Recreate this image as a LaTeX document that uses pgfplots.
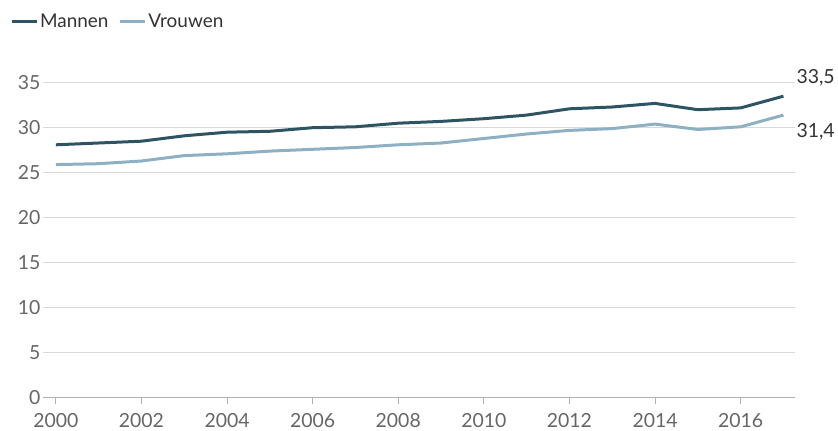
\documentclass[border=0pt]{standalone}
\usepackage{pgfplots}
\pgfplotsset{compat=1.18}
\usepackage{fontspec}
\setmainfont{Lato}
\definecolor{mannen}{HTML}{2E5464}
\definecolor{vrouwen}{HTML}{8DB0C2}
\definecolor{tickgray}{HTML}{666666}
\definecolor{gridgray}{HTML}{D9D9D9}
\begin{document}
\begin{tikzpicture}[x=1bp,y=1bp]
\useasboundingbox (0,0) rectangle (838,430);
\begin{axis}[
  at={(43bp,32.3bp)}, anchor=south west,
  scale only axis, width=752bp, height=315bp,
  xmin=1999.70, xmax=2017.27, ymin=0, ymax=35,
  xtick={2000,2002,...,2016}, ytick={0,5,...,35},
  xticklabel style={/pgf/number format/1000 sep={}, yshift=-5bp},
  /pgf/number format/assume math mode=true,
  axis lines*=left,
  y axis line style={draw=none},
  x axis line style={gray!60, line width=0.8bp, -},
  ymajorgrids, grid style={gridgray, line width=0.8bp},
  tick label style={font=\fontsize{19.5}{22}\selectfont, text=tickgray},
  yticklabel style={xshift=1bp},
  ytick style={draw=none},
  xtick style={gray!60, line width=0.8bp},
  xtick align=outside, major tick length=6.7bp,
  clip=false,
  legend style={at={(rel axis cs:-0.044,1.193)}, anchor=west, draw=none,
    inner sep=0pt, font=\fontsize{19}{22}\selectfont, text=black!80,
    /tikz/every even column/.append style={column sep=8bp}},
  legend columns=2,
  legend image code/.code={\draw[#1, line width=3bp] (0bp,0bp) -- (25bp,0bp);},
]
\addplot[mannen, line width=3bp] coordinates {
 (2000,28.1) (2001,28.3) (2002,28.5) (2003,29.1) (2004,29.5) (2005,29.6)
 (2006,30.0) (2007,30.1) (2008,30.5) (2009,30.7) (2010,31.0) (2011,31.4)
 (2012,32.1) (2013,32.3) (2014,32.7) (2015,32.0) (2016,32.2) (2017,33.5)};
\addlegendentry{Mannen}
\addplot[vrouwen, line width=3bp] coordinates {
 (2000,25.9) (2001,26.0) (2002,26.3) (2003,26.9) (2004,27.1) (2005,27.4)
 (2006,27.6) (2007,27.8) (2008,28.1) (2009,28.3) (2010,28.8) (2011,29.3)
 (2012,29.7) (2013,29.9) (2014,30.4) (2015,29.8) (2016,30.1) (2017,31.4)};
\addlegendentry{Vrouwen}
\node[anchor=west, font=\fontsize{19.5}{22}\selectfont, text=black!80, inner sep=0pt] at (axis cs:2017.3,35.6) {33,5};
\node[anchor=west, font=\fontsize{19.5}{22}\selectfont, text=black!80, inner sep=0pt] at (axis cs:2017.3,29.5) {31,4};
\end{axis}
\end{tikzpicture}
\end{document}
